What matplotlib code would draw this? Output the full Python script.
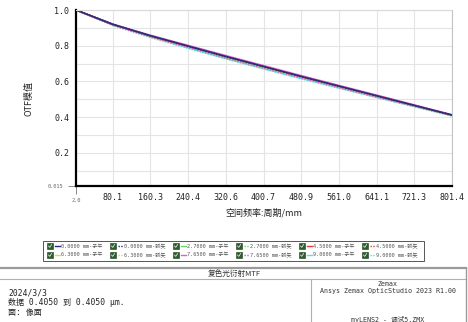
import matplotlib
matplotlib.use('Agg')
import matplotlib.pyplot as plt
from matplotlib.lines import Line2D
from matplotlib.patches import Rectangle

#==== DATA ====
freq = [2.0, 80.1, 160.3, 240.4, 320.6, 400.7, 480.9, 561.0, 641.1, 721.3, 801.4]
xtick_labels = ['80.1', '160.3', '240.4', '320.6', '400.7', '480.9', '561.0', '641.1', '721.3', '801.4']
fields = ['0.0000', '2.7000', '4.5000', '6.3000', '7.6500', '9.0000']

f0_t = [1.0, 0.920, 0.856, 0.798, 0.740, 0.684, 0.628, 0.574, 0.520, 0.466, 0.412]
f0_s = [1.0, 0.920, 0.856, 0.798, 0.740, 0.684, 0.628, 0.574, 0.520, 0.466, 0.412]
f1_t = [1.0, 0.918, 0.853, 0.795, 0.737, 0.681, 0.626, 0.572, 0.518, 0.465, 0.411]
f1_s = [1.0, 0.919, 0.855, 0.797, 0.739, 0.683, 0.627, 0.573, 0.519, 0.465, 0.412]
f2_t = [1.0, 0.919, 0.855, 0.798, 0.741, 0.685, 0.629, 0.575, 0.521, 0.467, 0.413]
f2_s = [1.0, 0.918, 0.853, 0.795, 0.737, 0.681, 0.626, 0.572, 0.518, 0.464, 0.411]
f3_t = [1.0, 0.917, 0.852, 0.794, 0.736, 0.680, 0.625, 0.571, 0.517, 0.464, 0.410]
f3_s = [1.0, 0.916, 0.850, 0.791, 0.733, 0.677, 0.622, 0.568, 0.515, 0.462, 0.409]
f4_t = [1.0, 0.921, 0.859, 0.802, 0.745, 0.689, 0.633, 0.578, 0.524, 0.469, 0.414]
f4_s = [1.0, 0.915, 0.849, 0.790, 0.731, 0.675, 0.620, 0.566, 0.513, 0.461, 0.409]
f5_t = [1.0, 0.922, 0.850, 0.788, 0.728, 0.672, 0.617, 0.564, 0.511, 0.460, 0.408]
f5_s = [1.0, 0.912, 0.845, 0.785, 0.726, 0.670, 0.615, 0.562, 0.510, 0.459, 0.407]

tan_data = [f0_t, f1_t, f2_t, f3_t, f4_t, f5_t]
sag_data = [f0_s, f1_s, f2_s, f3_s, f4_s, f5_s]
colors = ['#2a2c78', '#66d966', '#e03c3c', '#d8d86a', '#d860d0', '#5fdde0']

W, H = 468, 322
def fx(px):
    return px / W
def fy(py):
    return 1 - py / H

CJK = ['Noto Sans CJK SC', 'DejaVu Sans']
MONO = ['DejaVu Sans Mono', 'Noto Sans CJK SC']

fig = plt.figure(figsize=(W / 100, H / 100), dpi=100)
fig.patch.set_facecolor('white')
ax = fig.add_axes([fx(76), fy(186), 376 / W, 176 / H])

#==== curves (draw field 1 last so it sits on top) ====
order = [5, 3, 1, 2, 4, 0]
for i in order:
    ax.plot(freq, sag_data[i], color=colors[i], lw=1.0, ls=(0, (1, 1)))
    ax.plot(freq, tan_data[i], color=colors[i], lw=1.1)

ax.set_xlim(2.0, 801.4)
ax.set_ylim(0.015, 1.0)

#==== ticks & grid ====
xt = [801.4 * k / 10 for k in range(1, 11)]
ax.set_xticks(xt)
ax.set_xticklabels(xtick_labels, family='DejaVu Sans Mono', fontsize=6, color='#222222')
yt = [0.1 * k for k in range(1, 11)]
ax.set_yticks(yt)
ax.set_yticklabels(['%.1f' % v if k % 2 == 0 else '' for k, v in enumerate(yt, 1)],
                   family='DejaVu Sans Mono', fontsize=6, color='#222222')
ax.tick_params(which='major', length=0, pad=5)
ax.set_xticks([2.0], minor=True)
ax.set_xticklabels(['2.0'], minor=True, fontsize=3.8, color='#666666', family='DejaVu Sans Mono')
ax.set_yticks([0.015], minor=True)
ax.set_yticklabels(['0.015'], minor=True, fontsize=3.8, color='#666666', family='DejaVu Sans Mono')
ax.tick_params(which='minor', length=6, width=0.6, color='#777777', pad=3)
ax.grid(True, which='major', color='#e4e4e4', lw=0.8)
ax.set_axisbelow(True)

for side in ['left', 'bottom']:
    ax.spines[side].set_color('black')
    ax.spines[side].set_linewidth(1.6)
ax.spines['top'].set_color('#d8d8d8')
ax.spines['right'].set_color('#c4c4c4')

ax.set_ylabel('OTF模值', family=CJK, fontsize=6.5, labelpad=10, color='#222222')
ax.set_xlabel('空间频率:周期/mm', family=CJK, fontsize=6.5, labelpad=3, color='#222222')

#==== legend box (drawn by hand, Zemax style) ====
fig.add_artist(Rectangle((fx(43), fy(261)), fx(424) - fx(43), fy(241) - fy(261),
                         transform=fig.transFigure, fill=False, ec='#555555', lw=0.7))
col_x = [47, 110, 173, 236, 299, 362]
row_y = [246, 255]
for n in range(12):
    fi = n // 2
    sag = n % 2 == 1
    r = 0 if fi < 3 else 1
    c = (fi % 3) * 2 + (1 if sag else 0)
    x0 = col_x[c]
    y0 = row_y[r]
    fig.add_artist(Rectangle((fx(x0), fy(y0 + 3)), 6 / W, 6 / H, transform=fig.transFigure,
                             fc='#2a5e2a', ec='#1c3c1c', lw=0.4))
    fig.add_artist(Line2D([fx(x0 + 1.5), fx(x0 + 2.8), fx(x0 + 4.6)],
                          [fy(y0), fy(y0 + 1.4), fy(y0 - 1.5)],
                          transform=fig.transFigure, color='white', lw=0.5))
    fig.add_artist(Line2D([fx(x0 + 7.5), fx(x0 + 13)], [fy(y0), fy(y0)], transform=fig.transFigure,
                          color=colors[fi], lw=1.0, ls=(0, (1, 1)) if sag else '-'))
    label = fields[fi] + ' mm-' + ('弧矢' if sag else '子午')
    fig.text(fx(x0 + 14), fy(y0), label, family=MONO, fontsize=3.7, va='center', ha='left', color='#555555')

#==== footer frame ====
def hline(y, x0, x1, color='#9a9a9a', lw=1.4):
    fig.add_artist(Line2D([fx(x0), fx(x1)], [fy(y), fy(y)], transform=fig.transFigure, color=color, lw=lw))
def vline(x, y0, y1, color='#9a9a9a', lw=1.0):
    fig.add_artist(Line2D([fx(x), fx(x)], [fy(y0), fy(y1)], transform=fig.transFigure, color=color, lw=lw))

hline(268, 0, 466, lw=1.6)
hline(279, 0, 466, color='#b0b0b0', lw=0.8)
vline(466, 268, 322)
vline(311, 279, 322, color='#b0b0b0', lw=0.8)

fig.text(fx(234), fy(273.5), '复色光衍射MTF', family=CJK, fontsize=5.5, ha='center', va='center', color='#333333')
fig.text(fx(8), fy(292.5), '2024/3/3', family=MONO, fontsize=5.8, ha='left', va='center', color='#222222')
fig.text(fx(8), fy(302.5), '数据 0.4050 到 0.4050 μm.', family=MONO, fontsize=5.8, ha='left', va='center', color='#222222')
fig.text(fx(8), fy(312.5), '面: 像面', family=MONO, fontsize=5.8, ha='left', va='center', color='#222222')
fig.text(fx(388), fy(284), 'Zemax', family=MONO, fontsize=4.8, ha='center', va='center', color='#333333')
fig.text(fx(388), fy(291.5), 'Ansys Zemax OpticStudio 2023 R1.00', family=MONO, fontsize=4.8,
         ha='center', va='center', color='#333333')
fig.text(fx(388), fy(319), 'myLENS2 - 调试5.ZMX', family=MONO, fontsize=4.8, ha='center', va='center', color='#333333')

fig.savefig('out.png', dpi=100, facecolor='white')
